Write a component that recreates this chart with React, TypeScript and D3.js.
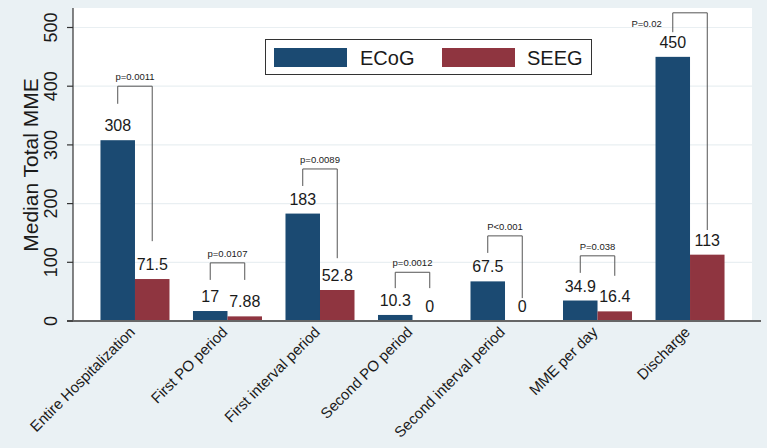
import React from "react";
import * as d3 from "d3";

const categories = [
  "Entire Hospitalization",
  "First PO period",
  "First interval period",
  "Second PO period",
  "Second interval period",
  "MME per day",
  "Discharge",
];
const series = ["ECoG", "SEEG"];
const ecog = [308, 17, 183, 10.3, 67.5, 34.9, 450];
const seeg = [71.5, 7.88, 52.8, 0, 0, 16.4, 113];
const ecogLabels = ["308", "17", "183", "10.3", "67.5", "34.9", "450"];
const seegLabels = ["71.5", "7.88", "52.8", "0", "0", "16.4", "113"];
const pLabels = ["p=0.0011", "p=0.0107", "p=0.0089", "p=0.0012", "P<0.001", "P=0.038", "P=0.02"];
const bracketTop = [400, 99, 259, 83, 145, 111, 525];
const bracketLeft = [370, 70, 230, 56, 116, 82, 492];
const bracketRight = [136, 70, 107, 56, 39, 77, 155];
const pLabelSide = ["above", "above", "above", "above", "above", "above", "left"];
const yTicks = [0, 100, 200, 300, 400, 500];

const W = 767;
const H = 448;
const plot = { left: 73, right: 752, top: 8, bottom: 321 };
const colors = { ECoG: "#1b4a72", SEEG: "#8f3540" };
const font = "Liberation Sans, Arial, sans-serif";

export default function App() {
  const y = d3.scaleLinear().domain([0, 500]).range([plot.bottom, 27.5]);
  const x = d3
    .scaleBand<string>()
    .domain(categories)
    .range([plot.left, plot.right])
    .paddingInner(0.254)
    .paddingOuter(0.297);
  const xs = d3.scaleBand<string>().domain(series).range([0, x.bandwidth()]);
  const bw = xs.bandwidth();

  return (
    <svg
      width={W}
      height={H}
      style={{ position: "absolute", left: 0, top: 0, fontFamily: font }}
    >
      <rect x={0} y={0} width={W} height={H} fill="#eaf1f4" />
      <rect
        x={plot.left}
        y={plot.top}
        width={plot.right - plot.left}
        height={plot.bottom - plot.top}
        fill="#ffffff"
      />
      {yTicks.slice(1).map((t) => (
        <line
          key={"g" + t}
          x1={plot.left}
          x2={plot.right}
          y1={y(t)}
          y2={y(t)}
          stroke="#e9eff2"
          strokeWidth={1.2}
        />
      ))}
      {categories.map((c, i) => {
        const x0 = x(c)!;
        const xe = x0 + xs("ECoG")!;
        const xsg = x0 + xs("SEEG")!;
        const ce = xe + bw / 2;
        const cs = xsg + bw / 2;
        const yt = y(bracketTop[i]);
        return (
          <g key={c}>
            <rect x={xe} y={y(ecog[i])} width={bw} height={y(0) - y(ecog[i])} fill={colors.ECoG} />
            <rect x={xsg} y={y(seeg[i])} width={bw} height={y(0) - y(seeg[i])} fill={colors.SEEG} />
            <text x={ce} y={y(ecog[i]) - 9} textAnchor="middle" fontSize={16} fill="#1a1a1a">
              {ecogLabels[i]}
            </text>
            <text x={cs} y={y(seeg[i]) - 9} textAnchor="middle" fontSize={16} fill="#1a1a1a">
              {seegLabels[i]}
            </text>
            <path
              d={`M${ce},${y(bracketLeft[i])}V${yt}H${cs}V${y(bracketRight[i])}`}
              fill="none"
              stroke="#555"
              strokeWidth={1}
            />
            {pLabelSide[i] === "above" ? (
              <text x={(ce + cs) / 2} y={yt - 6} textAnchor="middle" fontSize={9.5} fill="#222">
                {pLabels[i]}
              </text>
            ) : (
              <text x={ce - 11} y={yt + 14} textAnchor="end" fontSize={9.5} fill="#222">
                {pLabels[i]}
              </text>
            )}
            <text
              transform={`translate(${ce + bw / 2 + 1},${plot.bottom + 12}) rotate(-45)`}
              textAnchor="end"
              fontSize={15}
              fill="#1a1a1a"
            >
              {c}
            </text>
          </g>
        );
      })}
      {/* axes */}
      <line x1={plot.left} x2={plot.left} y1={plot.top} y2={plot.bottom} stroke="#333" strokeWidth={1.2} />
      <line x1={plot.left - 6} x2={761} y1={plot.bottom} y2={plot.bottom} stroke="#666" strokeWidth={2} />
      {yTicks.map((t) => (
        <g key={"t" + t}>
          <line x1={plot.left - 6} x2={plot.left} y1={y(t)} y2={y(t)} stroke="#333" strokeWidth={1.2} />
          <text
            transform={`translate(${57},${y(t)}) rotate(-90)`}
            textAnchor="middle"
            fontSize={18}
            fill="#1a1a1a"
          >
            {t}
          </text>
        </g>
      ))}
      <text
        transform={`translate(${38},${165}) rotate(-90)`}
        textAnchor="middle"
        fontSize={21}
        fill="#1a1a1a"
      >
        Median Total MME
      </text>
      {/* legend */}
      <rect x={265.5} y={39.5} width={326} height={35} fill="#ffffff" stroke="#333" strokeWidth={1} />
      <rect x={274} y={48} width={73} height={19} fill={colors.ECoG} />
      <text x={360} y={65} fontSize={20} fill="#1a1a1a">
        ECoG
      </text>
      <rect x={442} y={48} width={73} height={19} fill={colors.SEEG} />
      <text x={527} y={65} fontSize={20} fill="#1a1a1a">
        SEEG
      </text>
    </svg>
  );
}
